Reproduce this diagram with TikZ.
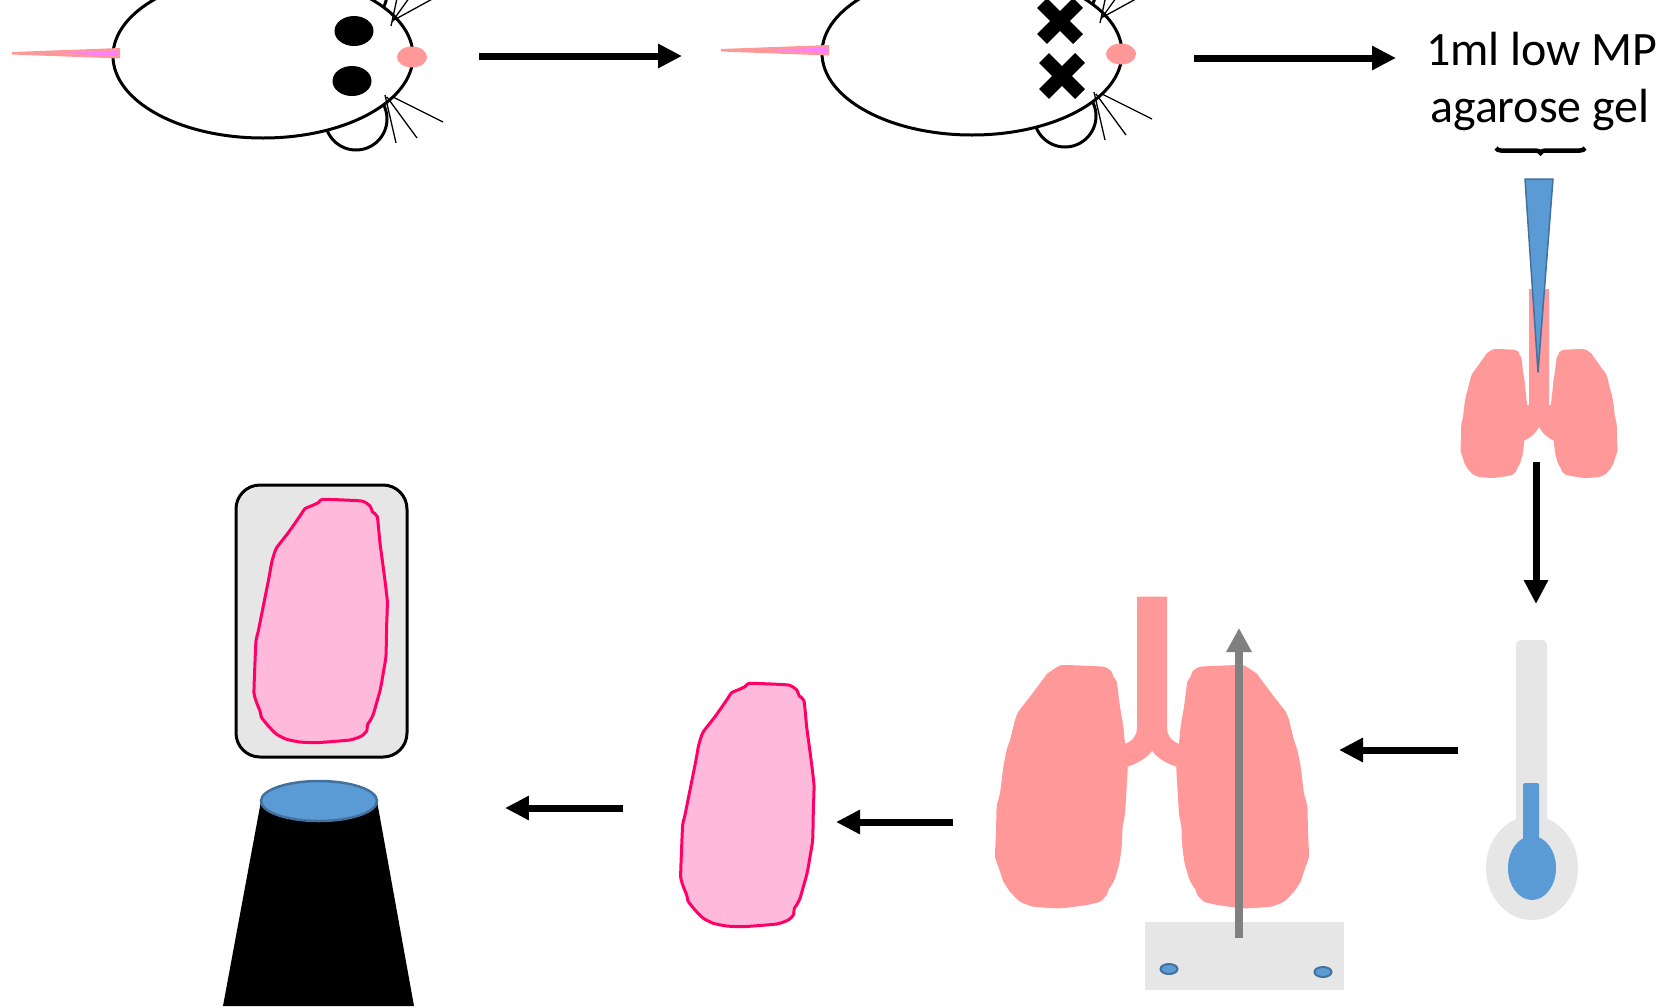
\documentclass[tikz,border=0pt]{standalone}
\usepackage{fontspec}
\setmainfont{Carlito}
\usetikzlibrary{arrows.meta,decorations.pathreplacing}

\definecolor{lungpink}{HTML}{FF9999}
\definecolor{tailpink}{HTML}{FF80FF}
\definecolor{gelblue}{HTML}{5B9BD5}
\definecolor{blueedge}{HTML}{41719C}
\definecolor{panelgray}{HTML}{E6E6E6}
\definecolor{slicefill}{HTML}{FFB9DB}
\definecolor{sliceedge}{HTML}{FF0066}
\definecolor{rodgray}{HTML}{808080}

% one lung lobe, trachea centre at x=0
\newcommand\drawlobe{%
  \fill[lungpink] plot[smooth cycle, tension=0.3] coordinates {
    (-316,282) (-286,262) (-266,255) (-146,260) (-121,275) (-116,290)
    (-106,305) (-96,380) (-86,440) (-81,490) (-73,560) (-76,620)
    (-81,700) (-88,740) (-91,800) (-98,850) (-111,895) (-121,915)
    (-131,930) (-136,945) (-156,965) (-196,975) (-276,985) (-356,980)
    (-396,965) (-426,935) (-446,905) (-451,890) (-461,860) (-471,830)
    (-468,760) (-466,680) (-456,640) (-451,600) (-446,560) (-436,510)
    (-426,480) (-416,440) (-411,420) (-401,395) (-366,350) (-321,290)};}
\newcommand\drawlungpair{\drawlobe\begin{scope}[xscale=-1]\drawlobe\end{scope}}

\tikzset{
  flowarrow/.style={line width=0.14cm, -{Triangle[length=0.48cm,width=0.46cm]}},
  outline/.style={line width=0.06cm},
  whisker/.style={line width=0.026cm},
  xeye/.style={line width=0.28cm},
  gelfont/.style={font=\fontsize{27.3pt}{31pt}\selectfont, inner sep=0pt},
  % lung slice outline
  slice/.pic={
    \filldraw[fill=slicefill, draw=sliceedge, line width=0.06cm, line join=round, scale=1/3]
      plot[smooth cycle, tension=0.3] coordinates {
      (270,70) (385,75) (410,90) (418,108) (432,122) (440,200) (452,290)
      (462,375) (460,450) (458,540) (450,590) (445,620) (440,645) (430,680)
      (420,715) (410,735) (403,745) (400,765) (385,780) (350,792) (250,800)
      (200,798) (160,790) (130,775) (105,750) (85,725) (80,705) (70,680)
      (62,650) (65,560) (68,495) (75,465) (82,430) (90,390) (100,340)
      (108,300) (115,260) (122,235) (130,215) (165,170) (200,120) (215,98)
      (238,88) (255,80)};
  },
  % mouse seen from above, without eyes
  mouse/.pic={
    \filldraw[fill=white, outline] (356,119) circle [radius=31];
    \filldraw[fill=white, outline] (356,-7) circle [radius=31];
    \filldraw[fill=white, outline] (263,56) ellipse [x radius=150, y radius=82];
    \fill[lungpink] (12,52) -- (120,48) -- (120,58.5) -- (12,54.5) -- cycle;
    \fill[tailpink] (58,53) -- (118,50.5) -- (118,56) -- cycle;
    \fill[lungpink] (412,57) ellipse [x radius=15, y radius=10.5];
    \draw[whisker] (385,95) -- (396,143) (387,97) -- (417,138) (393,97) -- (443,122)
                   (391,26) -- (401,-20) (392,22) -- (422,-20) (394,20) -- (445,-8);
  },
}

\begin{document}
\begin{tikzpicture}[x=0.02cm, y=-0.02cm]
\useasboundingbox (0,0) rectangle (1671,1008);
\fill[white] (0,0) rectangle (1671,1008);
\clip (0,0) rectangle (1671,1008);

% ---- live mouse and sacrificed mouse ----
\pic at (0,0) {mouse};
\fill (354,31) ellipse [x radius=19.5, y radius=15];
\fill (352,81) ellipse [x radius=19.5, y radius=15];

\pic at (709,-3) {mouse};
\draw[xeye] (1060,21) +(-18,-18) -- +(18,18) +(-18,18) -- +(18,-18);
\draw[xeye] (1062,76) +(-18,-18) -- +(18,18) +(-18,18) -- +(18,-18);

\coordinate (mouseA) at (479,56);
\coordinate (mouseB) at (682,56);
\draw[flowarrow] (mouseA) -- (mouseB);
\coordinate (mouseBr) at (1194,58);
\coordinate (gelin) at (1396,58);
\draw[flowarrow] (mouseBr) -- (gelin);

% ---- agarose gel instillation ----
\node[gelfont, anchor=base] (gelA) at (1542,65) {1ml low MP};
\node[gelfont, anchor=base] (gelB) at (1540,122) {agarose gel};
\draw[line width=0.09cm, decorate, decoration={brace, amplitude=0.1cm, mirror}]
  (1496,148) -- (1585,148);

\begin{scope}[shift={(1539,303.9)}, xscale=1/6, yscale=0.1767]
  \drawlungpair
\end{scope}
\fill[lungpink] (1529,289) -- (1529,405) -- (1525,405)
  .. controls (1524,412) and (1522,416) .. (1519,418) -- (1519,442)
  .. controls (1529,440) and (1535,434) .. (1539,427)
  .. controls (1543,434) and (1549,440) .. (1559,442) -- (1559,418)
  .. controls (1556,416) and (1554,412) .. (1553,405) -- (1549,405)
  -- (1549,289) -- cycle;
\filldraw[fill=gelblue, draw=blueedge, line width=0.03cm, line join=round]
  (1525,179) -- (1553,179) -- (1538,372) -- cycle;

\coordinate (smalllung) at (1536,462);
\coordinate (cooling) at (1536,604);
\draw[flowarrow] (smalllung) -- (cooling);

% ---- cooling ----
\fill[panelgray] (1532,868) ellipse [x radius=46, y radius=52];
\fill[panelgray, rounded corners=0.1cm] (1516,640) rectangle (1547,840);
\fill[gelblue, rounded corners=0.04cm] (1523,783) rectangle (1539,850);
\fill[gelblue] (1532,868) ellipse [x radius=24, y radius=32];

\coordinate (thermo) at (1458,750);
\coordinate (biglung) at (1339,750);
\draw[flowarrow] (thermo) -- (biglung);

% ---- lungs on the slicer ----
\begin{scope}[shift={(1152,580)}, scale=1/3]
  \drawlungpair
  \fill[lungpink] (-45,50) -- (-45,440) .. controls (-45,470) and (-60,485) .. (-90,495)
    -- (-90,565) .. controls (-50,555) and (-15,535) .. (0,512)
    .. controls (15,535) and (50,555) .. (90,565) -- (90,495)
    .. controls (60,485) and (45,470) .. (45,440) -- (45,50) -- cycle;
\end{scope}
\fill[panelgray] (1145,922) rectangle (1344,990);
\filldraw[fill=gelblue, draw=blueedge, line width=0.04cm] (1169,969) ellipse [x radius=8.5, y radius=5];
\filldraw[fill=gelblue, draw=blueedge, line width=0.04cm] (1323,972) ellipse [x radius=8.5, y radius=5];
\coordinate (rodbase) at (1239,938);
\coordinate (rodtip) at (1239,628);
\draw[line width=0.16cm, rodgray, -{Triangle[length=0.48cm,width=0.48cm]}] (rodbase) -- (rodtip);

\coordinate (slicer) at (953,822);
\coordinate (sliceR) at (836,822);
\draw[flowarrow] (slicer) -- (sliceR);

% ---- single slice ----
\pic at (660,660) {slice};
\coordinate (sliceL) at (623,808);
\coordinate (scope) at (505,808);
\draw[flowarrow] (sliceL) -- (scope);

% ---- slice on the microscope stage ----
\filldraw[fill=panelgray, outline, rounded corners=0.48cm] (236,485) rectangle (407,757);
\pic at (233.3,476) {slice};
\fill[black] (261,801) -- (377,801) -- (414,1006) -- (223,1006) -- cycle;
\filldraw[fill=gelblue, draw=blueedge, line width=0.05cm] (319,801) ellipse [x radius=58, y radius=20];
\end{tikzpicture}
\end{document}
